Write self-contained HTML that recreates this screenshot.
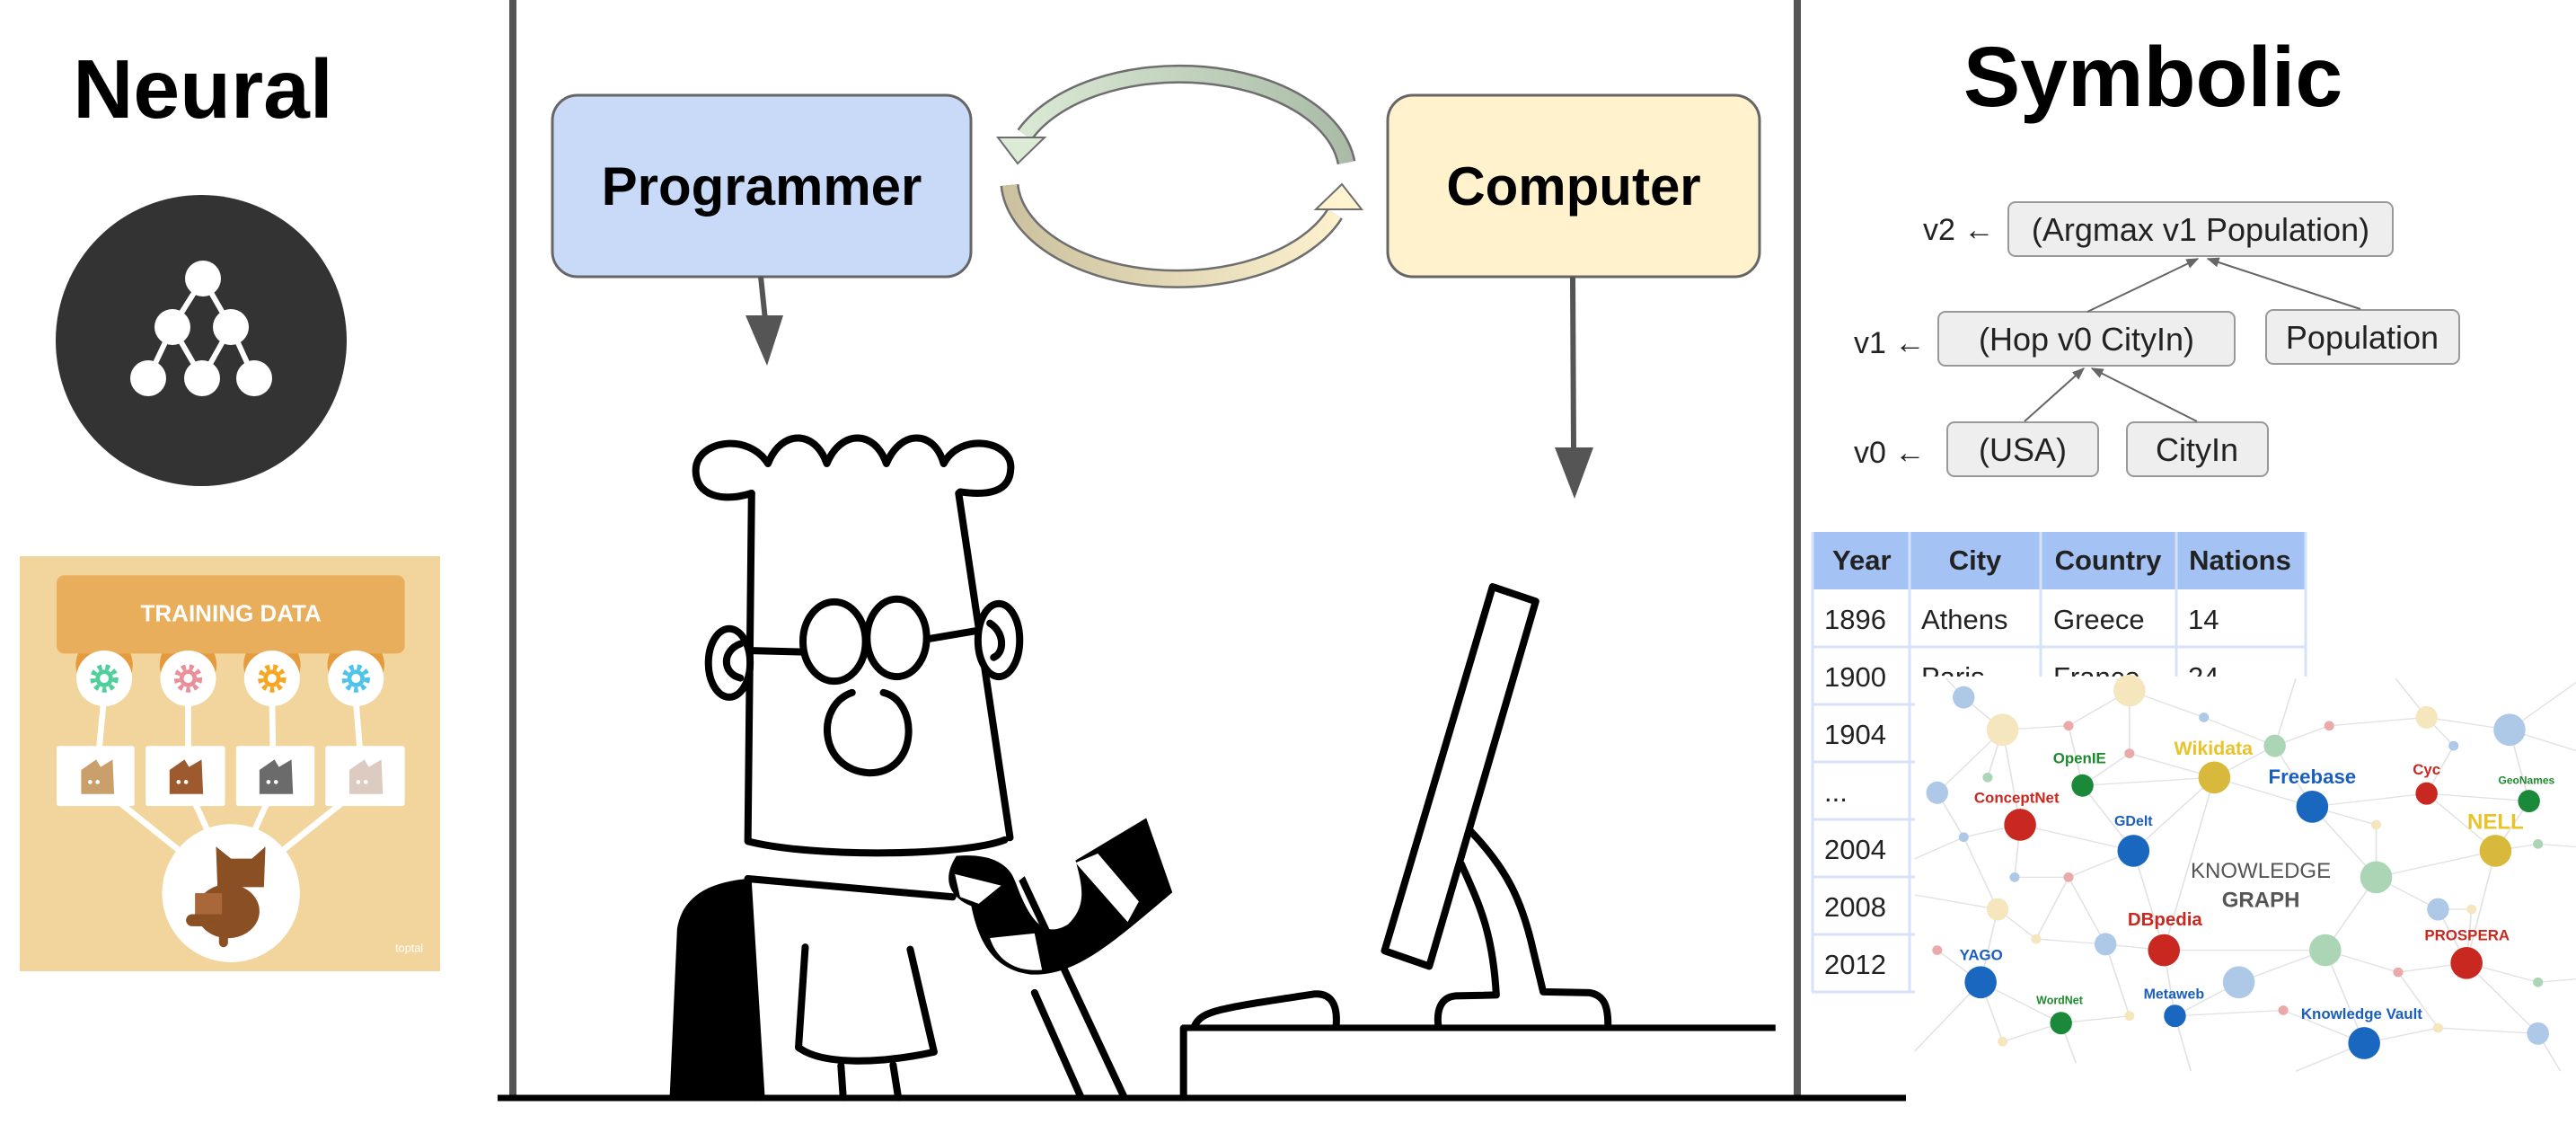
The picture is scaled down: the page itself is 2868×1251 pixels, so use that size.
<!DOCTYPE html>
<html><head><meta charset="utf-8"><style>
html,body{margin:0;padding:0;background:#fff;}
body{width:2868px;height:1246px;overflow:hidden;}
svg text{font-family:"Liberation Sans",Arial,sans-serif;}
</style></head><body>
<svg width="2868" height="1246" viewBox="0 0 2868 1246" xmlns="http://www.w3.org/2000/svg">
<defs>
<linearGradient id="gt" gradientUnits="userSpaceOnUse" x1="1120" y1="0" x2="1510" y2="0"><stop offset="0" stop-color="#dcebd6"/><stop offset="1" stop-color="#a9baa6"/></linearGradient>
<linearGradient id="gb" gradientUnits="userSpaceOnUse" x1="1120" y1="0" x2="1510" y2="0"><stop offset="0" stop-color="#cbc19f"/><stop offset="1" stop-color="#fff3d0"/></linearGradient>
<marker id="ah" viewBox="0 0 10 10" refX="9" refY="5" markerWidth="7" markerHeight="7" orient="auto"><path d="M0,1 L10,5 L0,9 Z" fill="#666"/></marker>
</defs>

<!-- Neural -->
<text x="226" y="131" font-size="93" font-weight="bold" text-anchor="middle" fill="#000">Neural</text>
<circle cx="224" cy="379" r="162" fill="#333"/>
<g stroke="#fff" stroke-width="6">
<line x1="226" y1="310" x2="192" y2="364"/><line x1="226" y1="310" x2="257" y2="364"/>
<line x1="192" y1="364" x2="165" y2="421"/><line x1="192" y1="364" x2="225" y2="421"/>
<line x1="257" y1="364" x2="225" y2="421"/><line x1="257" y1="364" x2="283" y2="421"/>
</g>
<g fill="#fff"><circle cx="226" cy="310" r="20"/><circle cx="192" cy="364" r="20"/><circle cx="257" cy="364" r="20"/><circle cx="165" cy="421" r="20"/><circle cx="225" cy="421" r="20"/><circle cx="283" cy="421" r="20"/></g>

<!-- Training data image -->
<svg x="22" y="619" width="468" height="462" viewBox="65 58 1403 1382" preserveAspectRatio="none">
<rect x="65" y="58" width="1403" height="1382" fill="#f2d59c"/>
<g fill="#e59a3c"><circle cx="347" cy="420" r="95"/><circle cx="627" cy="420" r="95"/><circle cx="907" cy="420" r="95"/><circle cx="1187" cy="420" r="95"/></g>
<rect x="188" y="122" width="1162" height="260" rx="25" fill="#e8ae5b"/>
<text x="770" y="275" font-size="78" font-weight="900" fill="#fff" text-anchor="middle" font-family="Liberation Sans">TRAINING DATA</text>
<g stroke="#fff" stroke-width="20">
<line x1="345" y1="540" x2="330" y2="700"/><line x1="627" y1="540" x2="627" y2="700"/><line x1="907" y1="540" x2="910" y2="700"/><line x1="1187" y1="540" x2="1200" y2="700"/>
<line x1="400" y1="880" x2="600" y2="1040"/><line x1="650" y1="880" x2="700" y2="990"/><line x1="890" y1="880" x2="840" y2="990"/><line x1="1140" y1="880" x2="940" y2="1040"/>
</g>
<g fill="#fff"><circle cx="347" cy="465" r="93"/><circle cx="627" cy="465" r="93"/><circle cx="907" cy="465" r="93"/><circle cx="1187" cy="465" r="93"/>
<rect x="188" y="690" width="260" height="200" rx="8"/><rect x="485" y="690" width="265" height="200" rx="8"/><rect x="787" y="690" width="262" height="200" rx="8"/><rect x="1085" y="690" width="265" height="200" rx="8"/>
<circle cx="770" cy="1180" r="230"/></g>
<g stroke-width="18" stroke-dasharray="14 12" fill="none">
<circle cx="347" cy="465" r="38" stroke="#4fcf9a"/><circle cx="627" cy="465" r="38" stroke="#e8909a"/><circle cx="907" cy="465" r="38" stroke="#f5a623"/><circle cx="1187" cy="465" r="38" stroke="#4fc3e8"/></g>
<g stroke-width="14" fill="none">
<circle cx="347" cy="465" r="22" stroke="#4fcf9a"/><circle cx="627" cy="465" r="22" stroke="#e8909a"/><circle cx="907" cy="465" r="22" stroke="#f5a623"/><circle cx="1187" cy="465" r="22" stroke="#4fc3e8"/></g>
<polygon points="270,850 270,770 320,735 335,760 375,735 380,850" fill="#c9a06b"/>
<polygon points="565,850 565,770 615,735 630,760 672,735 677,850" fill="#9c5a2e"/>
<polygon points="865,850 865,770 915,735 930,760 972,735 977,850" fill="#6b6b6b"/>
<polygon points="1165,850 1165,770 1215,735 1230,760 1272,735 1277,850" fill="#dccbc0"/>
<g fill="#fff"><circle cx="300" cy="810" r="7"/><circle cx="325" cy="810" r="7"/><circle cx="595" cy="810" r="7"/><circle cx="620" cy="810" r="7"/><circle cx="895" cy="810" r="7"/><circle cx="920" cy="810" r="7"/><circle cx="1195" cy="810" r="7"/><circle cx="1220" cy="810" r="7"/></g>
<polygon points="720,1025 770,1065 840,1065 885,1025 880,1160 725,1160" fill="#8b4f24"/>
<ellipse cx="760" cy="1240" rx="105" ry="90" fill="#8b4f24"/>
<rect x="650" y="1180" width="90" height="110" fill="#a9673a"/>
<rect x="620" y="1250" width="230" height="40" rx="20" fill="#8b4f24"/>
<rect x="730" y="1280" width="30" height="80" rx="15" fill="#8b4f24"/>
<text x="1365" y="1375" font-size="38" fill="#fff" text-anchor="middle">toptal</text>
</svg>

<!-- frame lines -->
<line x1="571" y1="0" x2="571" y2="1222" stroke="#555" stroke-width="8"/>
<line x1="2001" y1="0" x2="2001" y2="1222" stroke="#555" stroke-width="8"/>

<!-- Programmer / Computer -->
<rect x="615" y="106" width="466" height="202" rx="28" fill="#c9daf8" stroke="#666" stroke-width="3"/>
<text x="848" y="228" font-size="60" font-weight="bold" text-anchor="middle">Programmer</text>
<rect x="1545" y="106" width="414" height="202" rx="28" fill="#fff2cc" stroke="#666" stroke-width="3"/>
<text x="1752" y="228" font-size="60" font-weight="bold" text-anchor="middle">Computer</text>
<line x1="847" y1="308" x2="852" y2="356" stroke="#555" stroke-width="6"/>
<polygon points="830,351 872,351 854,407" fill="#555"/>
<line x1="1751" y1="308" x2="1752" y2="500" stroke="#555" stroke-width="6"/>
<polygon points="1731,498 1774,498 1753,555" fill="#555"/>

<!-- cycle -->
<path d="M1499 181 A187 111 0 0 0 1141 150" fill="none" stroke="#6e6e6e" stroke-width="21"/>
<path d="M1499 181 A187 111 0 0 0 1141 150" fill="none" stroke="url(#gt)" stroke-width="16"/>
<polygon points="1111,153 1163,153 1133,182" fill="#dcebd6" stroke="#6e6e6e" stroke-width="2"/>
<path d="M1124 206 A187 111 0 0 0 1486 238" fill="none" stroke="#6e6e6e" stroke-width="21"/>
<path d="M1124 206 A187 111 0 0 0 1486 238" fill="none" stroke="url(#gb)" stroke-width="16"/>
<polygon points="1465,233 1516,233 1494,205" fill="#fff3d0" stroke="#6e6e6e" stroke-width="2"/>

<!-- Dilbert -->
<svg x="700" y="450" width="1300" height="796" viewBox="0 0 1568 1568" preserveAspectRatio="none">
<g fill="none" stroke="#000" stroke-width="8" stroke-linecap="round" stroke-linejoin="round">
<path vector-effect="non-scaling-stroke" d="M165,195 C125,215 90,200 90,145 C90,80 160,60 187,130 C205,55 250,55 266,130 C285,55 330,55 346,130 C365,55 410,55 423,130 C445,60 515,80 513,140 C512,195 480,200 445,192"/>
<path vector-effect="non-scaling-stroke" d="M165,195 L160,955"/>
<path vector-effect="non-scaling-stroke" d="M443,195 L512,950"/>
<ellipse vector-effect="non-scaling-stroke" cx="135" cy="567" rx="28" ry="75" fill="#fff"/>
<path vector-effect="non-scaling-stroke" d="M150,525 C125,540 125,590 150,600"/>
<ellipse vector-effect="non-scaling-stroke" cx="497" cy="517" rx="28" ry="80" fill="#fff"/>
<path vector-effect="non-scaling-stroke" d="M485,480 C505,500 505,545 490,555"/>
<ellipse vector-effect="non-scaling-stroke" cx="276" cy="520" rx="42" ry="87"/>
<ellipse vector-effect="non-scaling-stroke" cx="360" cy="512" rx="40" ry="85"/>
<path vector-effect="non-scaling-stroke" d="M165,540 L234,543 M400,515 L465,497"/>
<path vector-effect="non-scaling-stroke" d="M300,632 C250,660 255,800 322,808 C390,810 390,650 342,632"/>
<path vector-effect="non-scaling-stroke" d="M160,958 C250,995 450,990 505,955"/>
<path vector-effect="non-scaling-stroke" d="M160,1040 L435,1080"/>
<path vector-effect="non-scaling-stroke" d="M160,1040 L178,1520"/>
<path vector-effect="non-scaling-stroke" d="M237,1190 L228,1410 C260,1450 340,1445 410,1420 L378,1195"/>
<path vector-effect="non-scaling-stroke" d="M285,1450 L288,1520 M355,1448 L362,1520"/>
<path vector-effect="non-scaling-stroke" d="M525,1030 L665,1518 M545,1290 L607,1518"/>
<path vector-effect="non-scaling-stroke" d="M1160,400 L1218,432 L1075,1232 L1015,1198 Z" fill="#fff"/>
<path vector-effect="non-scaling-stroke" d="M1130,935 C1180,1020 1200,1090 1215,1200 L1228,1288 L1290,1290 C1310,1295 1315,1320 1315,1360"/>
<path vector-effect="non-scaling-stroke" d="M1118,1008 C1140,1090 1160,1150 1165,1295 L1110,1297 C1090,1300 1085,1330 1087,1360"/>
<path vector-effect="non-scaling-stroke" d="M760,1362 C770,1330 790,1325 920,1293 C945,1290 952,1320 950,1362"/>
<path vector-effect="non-scaling-stroke" d="M745,1368 L745,1520"/>
</g>
<path d="M160,1040 C90,1050 70,1100 65,1150 L55,1520 L178,1520 Z" fill="#000"/>
<path d="M440,990 C420,1040 430,1080 460,1100 C470,1180 490,1240 540,1250 C600,1255 650,1180 730,1070 L695,907 L600,1000 C610,1060 615,1100 590,1140 C560,1170 540,1140 520,1050 C510,1000 480,985 440,990 Z" fill="#000"/>
<g fill="#fff">
<path d="M438,1030 L500,1055 L470,1095 L445,1080 Z"/>
<path d="M485,1170 L545,1160 L555,1240 C520,1245 495,1220 485,1170 Z"/>
<path d="M600,1005 L630,985 L685,1090 L670,1135 Z"/>
<path d="M500,975 L520,960 L535,1030 L520,1050 Z"/>
</g>
<rect x="743" y="1360" width="797" height="14" fill="#000"/>
</svg>
<line x1="554" y1="1222" x2="2122" y2="1222" stroke="#000" stroke-width="7"/>

<!-- Symbolic -->
<text x="2397" y="118" font-size="95" font-weight="bold" text-anchor="middle">Symbolic</text>
<g fill="#eee" stroke="#999" stroke-width="2">
<rect x="2236" y="225" width="428" height="60" rx="8"/>
<rect x="2158" y="347" width="330" height="60" rx="8"/>
<rect x="2523" y="345" width="215" height="60" rx="8"/>
<rect x="2168" y="470" width="168" height="60" rx="8"/>
<rect x="2368" y="470" width="157" height="60" rx="8"/>
</g>
<g font-size="36" fill="#222" text-anchor="middle">
<text x="2450" y="268">(Argmax v1 Population)</text>
<text x="2323" y="390">(Hop v0 CityIn)</text>
<text x="2630" y="388">Population</text>
<text x="2252" y="513">(USA)</text>
<text x="2446" y="513">CityIn</text>
</g>
<g font-size="34" fill="#222">
<text x="2141" y="267">v2 ←</text>
<text x="2064" y="393">v1 ←</text>
<text x="2064" y="515">v0 ←</text>
</g>
<g stroke="#666" stroke-width="2" marker-end="url(#ah)">
<line x1="2324" y1="347" x2="2447" y2="288"/>
<line x1="2628" y1="344" x2="2458" y2="288"/>
<line x1="2254" y1="469" x2="2320" y2="410"/>
<line x1="2446" y1="469" x2="2329" y2="410"/>
</g>

<!-- table -->
<rect x="2017" y="592" width="550" height="64" fill="#a4c2f4"/>
<g stroke="#d6e2fa" stroke-width="3">
<line x1="2017" y1="720" x2="2567" y2="720"/><line x1="2017" y1="784" x2="2567" y2="784"/><line x1="2017" y1="848" x2="2567" y2="848"/><line x1="2017" y1="912" x2="2567" y2="912"/><line x1="2017" y1="976" x2="2567" y2="976"/><line x1="2017" y1="1040" x2="2567" y2="1040"/><line x1="2017" y1="1104" x2="2567" y2="1104"/>
<line x1="2126" y1="592" x2="2126" y2="1104"/><line x1="2272" y1="592" x2="2272" y2="1104"/><line x1="2423" y1="592" x2="2423" y2="1104"/><line x1="2567" y1="592" x2="2567" y2="1104"/><line x1="2018" y1="592" x2="2018" y2="1104"/>
</g>
<g font-size="31" fill="#222">
<text x="2040" y="634" font-weight="bold">Year</text><text x="2199" y="634" font-weight="bold" text-anchor="middle">City</text><text x="2347" y="634" font-weight="bold" text-anchor="middle">Country</text><text x="2494" y="634" font-weight="bold" text-anchor="middle">Nations</text>
<text x="2031" y="700">1896</text><text x="2139" y="700">Athens</text><text x="2286" y="700">Greece</text><text x="2436" y="700">14</text>
<text x="2031" y="764">1900</text><text x="2139" y="764">Paris</text><text x="2286" y="764">France</text><text x="2436" y="764">24</text>
<text x="2031" y="828">1904</text><text x="2031" y="892">...</text><text x="2031" y="956">2004</text><text x="2031" y="1020">2008</text><text x="2031" y="1084">2012</text>
</g>

<!-- knowledge graph -->
<g transform="translate(2000,550) scale(0.556,0.446)">
<rect x="237" y="455" width="1324" height="1000" fill="#fff"/>
<g stroke="#e2e2e2" stroke-width="3">
<path d="M335,507L413,588 M413,588L545,578 M545,578L667,490 M667,490L667,647 M667,490L816,557 M816,557L958,628 M958,628L1067,578 M1067,578L1262,557 M1262,557L1428,588 M1262,557L1316,628 M1316,628L1262,747 M1428,588L1467,766 M413,588L383,707 M413,588L282,745 M282,745L335,856 M413,588L448,825 M545,578L573,727 M667,647L573,727 M573,727L837,707 M667,647L837,707 M837,707L958,628 M837,707L1033,780 M958,628L1033,780 M1033,780L1262,747 M1262,747L1467,766 M1262,747L1400,890 M1467,766L1400,890 M1400,890L1485,873 M448,825L675,890 M573,727L675,890 M448,825L335,856 M448,825L437,956 M335,856L403,1036 M437,956L545,956 M545,956L675,890 M675,890L736,1138 M675,890L837,707 M1033,780L1161,825 M1161,825L1161,956 M1033,780L1161,956 M1161,956L1400,890 M1161,956L1285,1036 M1285,1036L1352,1036 M1285,1036L1342,1170 M1400,890L1342,1170 M1352,1036L1342,1170 M403,1036L369,1218 M403,1036L480,1110 M480,1110L619,1123 M619,1123L736,1138 M736,1138L1059,1138 M1059,1138L886,1218 M1059,1138L1161,956 M1059,1138L1205,1193 M1205,1193L1342,1170 M1342,1170L1485,1218 M1342,1170L1485,1346 M1059,1138L1137,1370 M886,1218L758,1302 M736,1138L758,1302 M619,1123L667,1302 M667,1302L530,1320 M530,1320L369,1218 M369,1218L413,1366 M530,1320L413,1366 M758,1302L975,1288 M975,1288L1137,1370 M1137,1370L1285,1332 M1285,1332L1485,1346 M1285,1332L1205,1193 M282,1138L369,1218 M545,956L480,1110 M545,956L619,1123 M837,707L736,1138 M1428,588L1561,640 M1485,873L1561,880 M1485,1218L1561,1210 M237,910L335,856 M237,1000L403,1036 M237,1390L369,1218 M530,1320L560,1420 M758,1302L790,1440 M1137,1370L1000,1440 M1485,1346L1530,1440 M958,628L1000,460 M1262,557L1200,460 M1428,588L1561,470 M667,490L640,460 M335,507L300,460"/>
</g>
<g>
<ellipse cx="335" cy="507" rx="22" ry="28" fill="#aec8e8"/>
<ellipse cx="667" cy="490" rx="32" ry="40" fill="#f5e6bd"/>
<ellipse cx="413" cy="588" rx="32" ry="40" fill="#f5e6bd"/>
<ellipse cx="545" cy="578" rx="10" ry="12" fill="#ebaaaa"/>
<ellipse cx="816" cy="557" rx="10" ry="12" fill="#aec8e8"/>
<ellipse cx="667" cy="647" rx="10" ry="12" fill="#ebaaaa"/>
<ellipse cx="958" cy="628" rx="22" ry="28" fill="#acd5b5"/>
<ellipse cx="1067" cy="578" rx="10" ry="12" fill="#ebaaaa"/>
<ellipse cx="1262" cy="557" rx="22" ry="28" fill="#f5e6bd"/>
<ellipse cx="1428" cy="588" rx="32" ry="40" fill="#aec8e8"/>
<ellipse cx="1316" cy="628" rx="10" ry="12" fill="#aec8e8"/>
<ellipse cx="383" cy="707" rx="10" ry="12" fill="#acd5b5"/>
<ellipse cx="282" cy="745" rx="22" ry="28" fill="#aec8e8"/>
<ellipse cx="573" cy="727" rx="22" ry="28" fill="#1a8a3a"/>
<ellipse cx="837" cy="707" rx="32" ry="40" fill="#d9b93c"/>
<ellipse cx="1033" cy="780" rx="32" ry="40" fill="#1a67c0"/>
<ellipse cx="1262" cy="747" rx="22" ry="28" fill="#c8281f"/>
<ellipse cx="1467" cy="766" rx="22" ry="28" fill="#1a8a3a"/>
<ellipse cx="448" cy="825" rx="32" ry="40" fill="#c8281f"/>
<ellipse cx="675" cy="890" rx="32" ry="40" fill="#1a67c0"/>
<ellipse cx="1161" cy="825" rx="10" ry="12" fill="#f5e6bd"/>
<ellipse cx="1400" cy="890" rx="32" ry="40" fill="#d9b93c"/>
<ellipse cx="1485" cy="873" rx="10" ry="12" fill="#acd5b5"/>
<ellipse cx="335" cy="856" rx="10" ry="12" fill="#aec8e8"/>
<ellipse cx="437" cy="956" rx="10" ry="12" fill="#aec8e8"/>
<ellipse cx="545" cy="956" rx="10" ry="12" fill="#ebaaaa"/>
<ellipse cx="1161" cy="956" rx="32" ry="40" fill="#acd5b5"/>
<ellipse cx="403" cy="1036" rx="22" ry="28" fill="#f5e6bd"/>
<ellipse cx="1285" cy="1036" rx="22" ry="28" fill="#aec8e8"/>
<ellipse cx="1352" cy="1036" rx="10" ry="12" fill="#f5e6bd"/>
<ellipse cx="282" cy="1138" rx="10" ry="12" fill="#ebaaaa"/>
<ellipse cx="480" cy="1110" rx="10" ry="12" fill="#f5e6bd"/>
<ellipse cx="619" cy="1123" rx="22" ry="28" fill="#aec8e8"/>
<ellipse cx="736" cy="1138" rx="32" ry="40" fill="#c8281f"/>
<ellipse cx="1059" cy="1138" rx="32" ry="40" fill="#acd5b5"/>
<ellipse cx="1342" cy="1170" rx="32" ry="40" fill="#c8281f"/>
<ellipse cx="369" cy="1218" rx="32" ry="40" fill="#1a67c0"/>
<ellipse cx="886" cy="1218" rx="32" ry="40" fill="#aec8e8"/>
<ellipse cx="1205" cy="1193" rx="10" ry="12" fill="#ebaaaa"/>
<ellipse cx="1485" cy="1218" rx="10" ry="12" fill="#acd5b5"/>
<ellipse cx="530" cy="1320" rx="22" ry="28" fill="#1a8a3a"/>
<ellipse cx="667" cy="1302" rx="10" ry="12" fill="#f5e6bd"/>
<ellipse cx="758" cy="1302" rx="22" ry="28" fill="#1a67c0"/>
<ellipse cx="975" cy="1288" rx="10" ry="12" fill="#ebaaaa"/>
<ellipse cx="1137" cy="1370" rx="32" ry="40" fill="#1a67c0"/>
<ellipse cx="1285" cy="1332" rx="10" ry="12" fill="#f5e6bd"/>
<ellipse cx="1485" cy="1346" rx="22" ry="28" fill="#aec8e8"/>
<ellipse cx="413" cy="1366" rx="10" ry="12" fill="#f5e6bd"/>
</g>
<g font-weight="bold" text-anchor="middle">
<text transform="translate(567,672) scale(0.8,1)" font-size="38" fill="#1e8a2e">OpenIE</text>
<text transform="translate(835,650) scale(0.8,1)" font-size="48" fill="#e8c32a">Wikidata</text>
<text transform="translate(1033,722) scale(0.8,1)" font-size="50" fill="#1a5fbf">Freebase</text>
<text transform="translate(1262,700) scale(0.8,1)" font-size="38" fill="#c8281f">Cyc</text>
<text transform="translate(1462,723) scale(0.8,1)" font-size="27" fill="#1e8a2e">GeoNames</text>
<text transform="translate(441,770) scale(0.8,1)" font-size="38" fill="#c8281f">ConceptNet</text>
<text transform="translate(675,827) scale(0.8,1)" font-size="36" fill="#1a5fbf">GDelt</text>
<text transform="translate(1400,835) scale(0.8,1)" font-size="54" fill="#e8c32a">NELL</text>
<text transform="translate(930,957) scale(0.8,1)" font-size="54" font-weight="normal" fill="#555">KNOWLEDGE</text>
<text transform="translate(930,1030) scale(0.8,1)" font-size="54" fill="#555">GRAPH</text>
<text transform="translate(738,1076) scale(0.8,1)" font-size="46" fill="#c8281f">DBpedia</text>
<text transform="translate(1343,1113) scale(0.8,1)" font-size="38" fill="#c8281f">PROSPERA</text>
<text transform="translate(370,1163) scale(0.8,1)" font-size="38" fill="#1a5fbf">YAGO</text>
<text transform="translate(527,1272) scale(0.8,1)" font-size="28" fill="#1e8a2e">WordNet</text>
<text transform="translate(756,1259) scale(0.8,1)" font-size="36" fill="#1a5fbf">Metaweb</text>
<text transform="translate(1132,1309) scale(0.8,1)" font-size="38" fill="#1a5fbf">Knowledge Vault</text>
</g>
</g>
</svg>
</body></html>
